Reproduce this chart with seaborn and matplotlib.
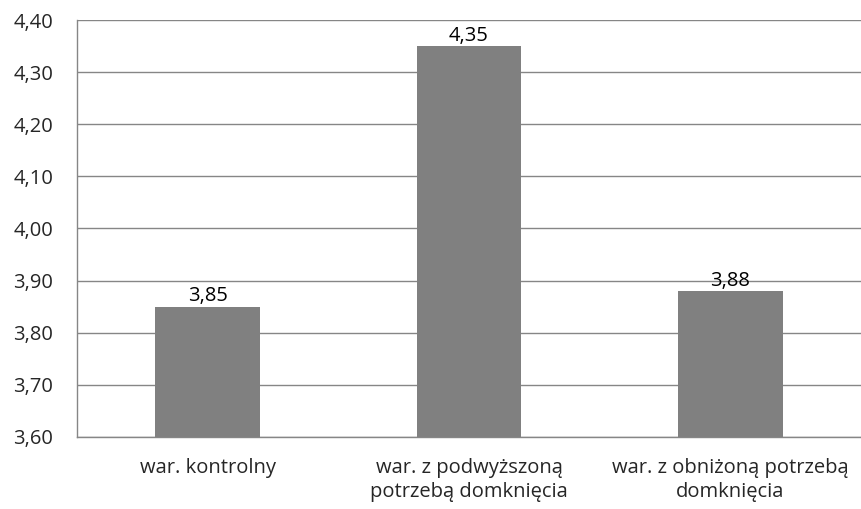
import matplotlib
matplotlib.use("Agg")
import matplotlib.pyplot as plt
import pandas as pd
import seaborn as sns
from matplotlib.ticker import FuncFormatter, FixedLocator

# ── Dane ──────────────────────────────────────────────────────────────────────
kategorie = ["war. kontrolny",
             "war. z podwyższoną\npotrzebą domknięcia",
             "war. z obniżoną potrzebą\ndomknięcia"]
wartosci = [3.85, 4.35, 3.88]
y_ticks = [3.60, 3.70, 3.80, 3.90, 4.00, 4.10, 4.20, 4.30, 4.40]

df = pd.DataFrame({"kategoria": kategorie, "wartosc": wartosci})

sns.set_style("white")
plt.rcParams["font.family"] = ["Open Sans", "DejaVu Sans"]

GREY = "#868686"
FS = 14.5

fig = plt.figure(figsize=(8.61, 5.09), dpi=100)
ax = fig.add_axes([0.0894, 0.1415, 0.9106, 0.8192])

sns.barplot(data=df, x="kategoria", y="wartosc", color="#808080",
            saturation=1, width=0.4, linewidth=0, ax=ax, zorder=3)

ax.set_ylim(3.60, 4.40)
ax.set_xlim(-0.5, 2.5)
ax.yaxis.set_major_locator(FixedLocator(y_ticks))
ax.yaxis.set_major_formatter(FuncFormatter(lambda v, _: f"{v:.2f}".replace(".", ",")))
ax.grid(axis="y", color=GREY, linewidth=1.0, zorder=0)
ax.set_axisbelow(True)

# znaczniki osi X na granicach kategorii
ax.xaxis.set_minor_locator(FixedLocator([-0.5, 0.5, 1.5, 2.5]))
ax.tick_params(axis="x", which="major", length=0, labelsize=FS, pad=15)
ax.tick_params(axis="x", which="minor", length=6, width=1, color=GREY)
ax.tick_params(axis="y", length=6, width=1, color=GREY, labelsize=FS, pad=11)
for lbl in ax.get_xticklabels():
    lbl.set_linespacing(1.3)

for side in ("top", "right"):
    ax.spines[side].set_visible(False)
for side in ("left", "bottom"):
    ax.spines[side].set_color(GREY)
    ax.spines[side].set_linewidth(1.0)

ax.set_xlabel("")
ax.set_ylabel("")

for i, v in enumerate(wartosci):
    ax.text(i, v + 0.001, f"{v:.2f}".replace(".", ","), ha="center", va="bottom",
            fontsize=FS, color="black")

fig.savefig("out.png", dpi=100)
